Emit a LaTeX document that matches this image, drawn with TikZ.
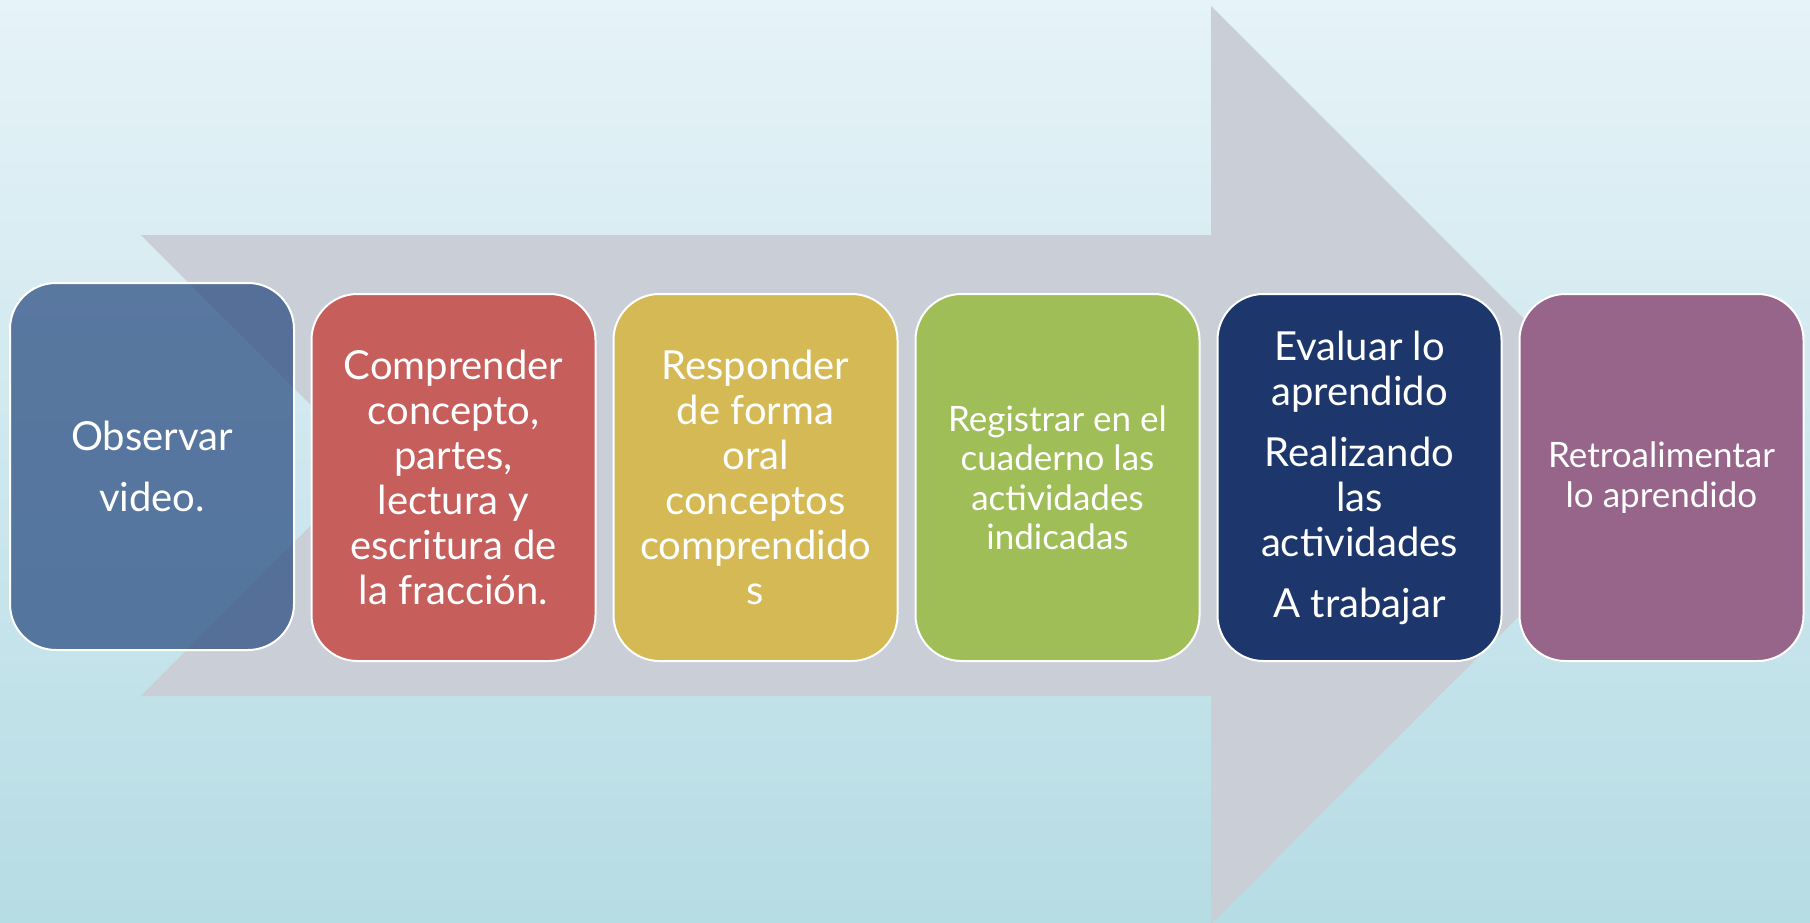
\documentclass[tikz,border=0pt]{standalone}
\usepackage{fontspec}
\setmainfont{Lato}
\usetikzlibrary{positioning}

\definecolor{fondoarriba}{HTML}{E6F3F8}
\definecolor{fondoabajo}{HTML}{B6DCE4}
\definecolor{flechagris}{HTML}{CACFD7}
\definecolor{azulgris}{HTML}{24477E}
\definecolor{rojo}{HTML}{C65E5C}
\definecolor{mostaza}{HTML}{D4B955}
\definecolor{verde}{HTML}{9FBE57}
\definecolor{marino}{HTML}{1D376C}
\definecolor{morado}{HTML}{97648A}

\begin{document}
\begin{tikzpicture}[x=0.5pt,y=-0.5pt,node distance=8pt,
  paso/.style={draw=white,line width=1pt,rounded corners=23pt,
    minimum width=142pt,minimum height=183.5pt,inner sep=0pt,
    text=white,align=center,font=\fontsize{20}{22.5}\selectfont},
  chico/.style={font=\fontsize{17.5}{19.75}\selectfont}]
  % fondo
  \shade[top color=fondoarriba,bottom color=fondoabajo] (0,0) rectangle (1810,922);
  \useasboundingbox (0,0) rectangle (1810,922);
  % flecha
  \fill[flechagris] (141,235) -- (1211,235) -- (1211,6) -- (1670,465) -- (1211,924)
    -- (1211,696) -- (141,696) -- (371,465) -- cycle;
  % pasos
  \node[paso,fill=azulgris,fill opacity=.7,text opacity=1,
    font=\fontsize{20}{30.5}\selectfont] (observar) at (152,466.5) {Observar\\video.};
  \node[paso,fill=rojo] (comprender) at (453.5,477.5)
    {Comprender\\concepto,\\partes,\\lectura y\\escritura de\\la fracción.};
  \node[paso,fill=mostaza,right=of comprender] (responder)
    {Responder\\de forma\\oral\\conceptos\\comprendido\\s};
  \node[paso,chico,fill=verde,right=of responder] (registrar)
    {Registrar en el\\cuaderno las\\actividades\\indicadas};
  \node[paso,fill=marino,right=of registrar] (evaluar)
    {Evaluar lo\\aprendido\\[8pt]Realizando\\las\\actividades\\[8pt]A trabajar};
  \node[paso,chico,fill=morado,right=of evaluar] (retro)
    {Retroalimentar\\lo aprendido};
\end{tikzpicture}
\end{document}
